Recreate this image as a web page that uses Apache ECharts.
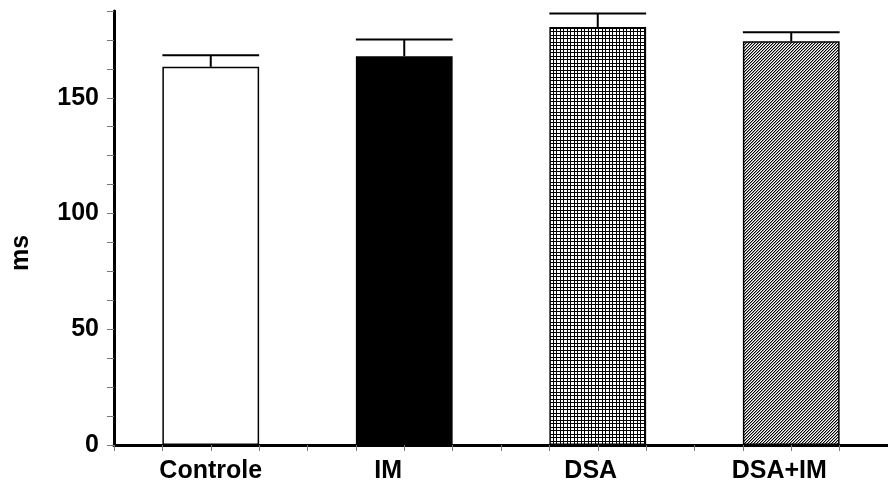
<!DOCTYPE html>
<html>
<head>
<meta charset="utf-8">
<script src="https://cdn.jsdelivr.net/npm/echarts@6/dist/echarts.min.js"></script>
<style>
  html, body { margin: 0; padding: 0; background: #fff; }
  #chart { width: 888px; height: 484px; }
</style>
</head>
<body>
<div id="chart"></div>
<script>
// values (ms)
const categories = ['Controle', 'IM', 'DSA', 'DSA+IM'];
const means = [163.4, 168.0, 180.6, 174.4];
const errorTops = [168.4, 175.2, 186.4, 178.3];
const yTickLabels = [0, 50, 100, 150];

const font = 'Liberation Sans, Arial, Helvetica, sans-serif';

// small repeating tiles for the patterned bars
function gridTile() {
  const c = document.createElement('canvas');
  c.width = 7;
  c.height = 7;
  const ctx = c.getContext('2d');
  ctx.fillStyle = '#fff';
  ctx.fillRect(0, 0, 7, 7);
  ctx.fillStyle = '#000';
  [0, 3].forEach(function (p) {
    ctx.fillRect(p, 0, 1, 7);
    ctx.fillRect(0, p, 7, 1);
  });
  return c;
}

function hatchTile() {
  const c = document.createElement('canvas');
  c.width = 3;
  c.height = 3;
  const ctx = c.getContext('2d');
  ctx.fillStyle = '#fff';
  ctx.fillRect(0, 0, 3, 3);
  for (let x = 0; x < 3; x++) {
    ctx.fillStyle = '#000';
    ctx.fillRect(x, 2 - x, 1, 1);
    ctx.fillStyle = '#999';
    ctx.fillRect(x, (3 - x) % 3, 1, 1);
  }
  return c;
}

const fills = [
  '#ffffff',
  '#000000',
  { image: gridTile(), repeat: 'repeat' },
  { image: hatchTile(), repeat: 'repeat' },
];

// the category labels sit a little left of the bar centres in the original
const labelNudge = [0, -16, -7, -12];

const chart = echarts.init(document.getElementById('chart'), null, { renderer: 'canvas' });

chart.setOption({
  animation: false,
  backgroundColor: '#ffffff',
  grid: { left: 114, right: -9, top: 11, bottom: 38, containLabel: false },
  xAxis: [
    {
      type: 'category',
      data: categories.map(function (c, i) {
        return {
          value: c,
          textStyle: { padding: labelNudge[i] < 0 ? [0, -2 * labelNudge[i], 0, 0] : 0 },
        };
      }),
      axisLine: { show: true, lineStyle: { color: '#000', width: 3 } },
      axisTick: { show: false },
      axisLabel: {
        color: '#000',
        fontFamily: font,
        fontWeight: 'bold',
        fontSize: 25,
        margin: 14,
      },
      splitLine: { show: false },
    },
    {
      type: 'value',
      position: 'bottom',
      min: 0,
      max: 16,
      interval: 1,
      axisLine: { show: false },
      axisTick: { show: true, length: 6, lineStyle: { color: '#777', width: 1 } },
      axisLabel: { show: false },
      splitLine: { show: false },
    },
  ],
  yAxis: {
    type: 'value',
    min: 0,
    max: 187.5,
    interval: 12.5,
    name: 'ms',
    nameLocation: 'middle',
    nameRotate: 90,
    nameGap: 80,
    nameTextStyle: {
      color: '#000',
      fontFamily: font,
      fontWeight: 'bold',
      fontSize: 25,
      padding: [0, 50, 0, 0],
    },
    axisLine: { show: true, lineStyle: { color: '#000', width: 3 } },
    axisTick: { show: true, length: 7, lineStyle: { color: '#777', width: 1 } },
    axisLabel: {
      color: '#000',
      fontFamily: font,
      fontWeight: 'bold',
      fontSize: 25,
      margin: 15,
      padding: [8, 0, 0, 0],
      formatter: function (v) {
        return yTickLabels.indexOf(v) >= 0 ? String(v) : '';
      },
    },
    splitLine: { show: false },
  },
  series: [
    {
      type: 'bar',
      xAxisIndex: 0,
      barWidth: '50%',
      data: means.map(function (v, i) {
        return {
          value: v,
          itemStyle: { color: fills[i], borderColor: '#000', borderWidth: 1.5 },
        };
      }),
    },
    {
      type: 'custom',
      xAxisIndex: 0,
      z: 5,
      data: means.map(function (m, i) {
        return [i, m, errorTops[i]];
      }),
      encode: { x: 0, y: [1, 2] },
      renderItem: function (params, api) {
        const i = api.value(0);
        const top = api.coord([i, api.value(2)]);
        const base = api.coord([i, api.value(1)]);
        const half = api.size([1, 0])[0] * 0.25;
        const style = { stroke: '#000', lineWidth: 2 };
        return {
          type: 'group',
          children: [
            { type: 'line', shape: { x1: top[0] - half, y1: top[1], x2: top[0] + half, y2: top[1] }, style: style },
            { type: 'line', shape: { x1: top[0], y1: top[1], x2: base[0], y2: base[1] }, style: style },
          ],
        };
      },
    },
  ],
});
</script>
</body>
</html>
